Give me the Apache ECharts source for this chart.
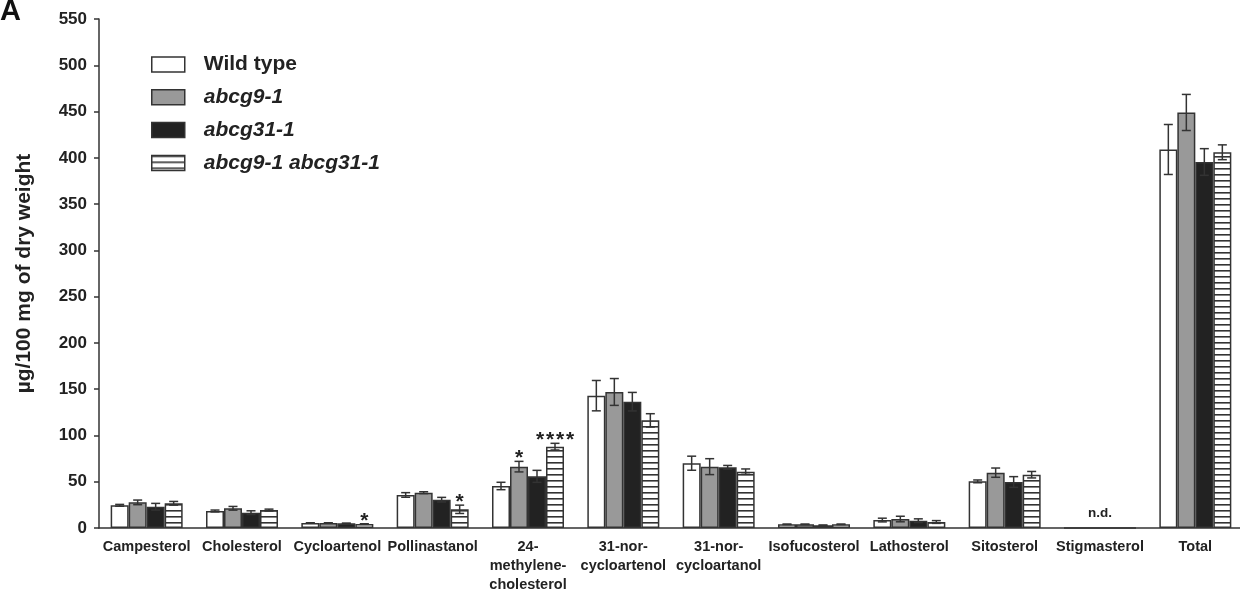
<!DOCTYPE html>
<html>
<head>
<meta charset="utf-8">
<title>Sterol content</title>
<script src="https://cdn.jsdelivr.net/npm/echarts@6/dist/echarts.min.js"></script>
<style>
  html, body { margin: 0; padding: 0; background: #fff; }
  #chart { width: 1240px; height: 591px; }
</style>
</head>
<body>
<div id="chart"></div>
<script>
// Sterol composition (µg/100 mg of dry weight) by genotype
const categories = ['Campesterol', 'Cholesterol', 'Cycloartenol', 'Pollinastanol',
  '24-\nmethylene-\ncholesterol', '31-nor-\ncycloartenol', '31-nor-\ncycloartanol',
  'Isofucosterol', 'Lathosterol', 'Sitosterol', 'Stigmasterol', 'Total'];

const seriesNames = ['Wild type', 'abcg9-1', 'abcg31-1', 'abcg9-1 abcg31-1'];

const wildType    = [24.5, 18.4, 5.4, 35.7, 45.4, 143.0, 70.0, 4.0, 8.6, 50.4, 0, 409.0];
const wildTypeErr = [1.0, 1.0, 0.3, 2.5, 4.0, 16.4, 7.6, 0.2, 2.0, 1.5, 0, 27.0];
const abcg9       = [27.7, 21.3, 5.4, 38.2, 66.3, 147.0, 66.3, 4.0, 9.7, 59.8, 0, 449.0];
const abcg9Err    = [2.5, 2.0, 0.3, 1.0, 5.7, 14.5, 8.6, 0.2, 3.0, 5.0, 0, 19.5];
const abcg31      = [23.0, 16.6, 5.0, 30.6, 55.8, 136.5, 65.6, 3.0, 7.9, 49.7, 0, 395.5];
const abcg31Err   = [3.6, 2.0, 0.3, 2.5, 6.5, 10.0, 2.0, 0.2, 2.0, 5.8, 0, 14.4];
const doubleMut   = [26.7, 19.4, 4.3, 20.2, 87.9, 116.3, 60.9, 4.0, 6.5, 57.6, 0, 406.0];
const doubleErr   = [2.0, 1.0, 0.3, 4.5, 3.6, 7.2, 2.9, 0.2, 1.5, 3.5, 0, 8.0];

// significance marks drawn above the error bars
const abcg9Marks  = ['', '', '', '', '*', '', '', '', '', '', '', ''];
const doubleMarks = ['', '', '*', '*', '****', '', '', '', '', '', '', ''];
const notes = [{ category: 'Stigmasterol', text: 'n.d.' }];

const yTicks = { min: 0, max: 550, interval: 50 };

const FONT = '"Liberation Sans", Arial, Helvetica, sans-serif';
const INK = '#333';
const BAR_W = 18;
const STAR_STEP = 10;

// horizontal stripe fill for the double mutant
function stripePattern() {
  const c = document.createElement('canvas');
  c.width = 8; c.height = 6;
  const ctx = c.getContext('2d');
  ctx.fillStyle = '#fff';
  ctx.fillRect(0, 0, 8, 6);
  ctx.fillStyle = INK;
  ctx.fillRect(0, 0, 8, 1.6);
  return c;
}

const values = [wildType, abcg9, abcg31, doubleMut];
const errors = [wildTypeErr, abcg9Err, abcg31Err, doubleErr];
const marks = [null, abcg9Marks, null, doubleMarks];
const fills = ['#ffffff', '#999999', '#222222', { image: stripePattern(), repeat: 'repeat' }];

// one item per bar: [category index, series index, value, error]
const errItems = [];
const errMarks = [];
values.forEach((vals, s) => {
  vals.forEach((v, i) => {
    errItems.push([i, s, v, errors[s][i]]);
    errMarks.push(marks[s] ? marks[s][i] : '');
  });
});

const barSeries = seriesNames.map((name, s) => ({
  name: name,
  type: 'bar',
  data: values[s],
  barWidth: BAR_W,
  barGap: '0%',
  itemStyle: { color: fills[s], borderColor: INK, borderWidth: 1.5 },
  z: 2
}));

const errorSeries = {
  type: 'custom',
  name: 'errors',
  data: errItems,
  z: 5,
  silent: true,
  renderItem: function (params, api) {
    const idx = api.value(0), s = api.value(1), v = api.value(2), e = api.value(3);
    const x = api.coord([idx, 0])[0] + (s - 1.5) * BAR_W;
    const children = [];
    const yTop = api.coord([idx, v + e])[1];
    if (e > 0) {
      const yBot = api.coord([idx, Math.max(v - e, 0)])[1];
      const cap = 4.5;
      const st = { stroke: INK, lineWidth: 1.5 };
      children.push({ type: 'line', shape: { x1: x, y1: yTop, x2: x, y2: yBot }, style: st });
      children.push({ type: 'line', shape: { x1: x - cap, y1: yTop, x2: x + cap, y2: yTop }, style: st });
      children.push({ type: 'line', shape: { x1: x - cap, y1: yBot, x2: x + cap, y2: yBot }, style: st });
    }
    const m = errMarks[params.dataIndex];
    if (m) {
      // each asterisk placed on its own, evenly spaced across the bar
      const n = m.length;
      for (let k = 0; k < n; k++) {
        children.push({
          type: 'text',
          style: {
            text: m[k], x: x + (k - (n - 1) / 2) * STAR_STEP, y: yTop - 3,
            align: 'center', verticalAlign: 'middle',
            font: 'bold 21px ' + FONT, fill: '#222'
          }
        });
      }
    }
    return { type: 'group', children: children };
  }
};

const noteSeries = {
  type: 'custom',
  name: 'notes',
  data: notes.map(n => [categories.indexOf(n.category), 0]),
  z: 5,
  silent: true,
  renderItem: function (params, api) {
    const p = api.coord([api.value(0), 0]);
    return {
      type: 'text',
      style: {
        text: notes[params.dataIndex].text, x: p[0], y: p[1] - 15,
        align: 'center', verticalAlign: 'middle',
        font: 'bold 13.5px ' + FONT, fill: '#222'
      }
    };
  }
};

const chart = echarts.init(document.getElementById('chart'), null, { renderer: 'canvas' });
chart.setOption({
  animation: false,
  backgroundColor: '#fff',
  grid: { left: 99, top: 19, width: 1144, bottom: 63, containLabel: false, outerBoundsMode: 'none' },
  graphic: [{
    type: 'text', left: 0, top: -3,
    style: { text: 'A', font: 'bold 29px ' + FONT, fill: '#111' }
  }],
  legend: {
    data: seriesNames,
    orient: 'vertical',
    left: 146,
    top: 49,
    icon: 'rect',
    itemWidth: 33,
    itemHeight: 15,
    itemGap: 11.8,
    selectedMode: false,
    itemStyle: { borderColor: INK, borderWidth: 1.5 },
    formatter: function (name) {
      return name === 'Wild type' ? '{n|' + name + '}' : '{i|' + name + '}';
    },
    textStyle: {
      padding: [0, 0, 0, 14],
      rich: {
        n: { fontFamily: FONT, fontWeight: 'bold', fontSize: 21, color: '#222', lineHeight: 21 },
        i: { fontFamily: FONT, fontWeight: 'bold', fontStyle: 'italic', fontSize: 21, color: '#222', lineHeight: 21 }
      }
    }
  },
  xAxis: {
    type: 'category',
    data: categories,
    axisLine: { lineStyle: { color: INK, width: 1.5 } },
    axisTick: { show: false },
    axisLabel: {
      interval: 0, margin: 9, color: '#222',
      fontFamily: FONT, fontWeight: 'bold', fontSize: 14.5, lineHeight: 19
    }
  },
  yAxis: {
    type: 'value',
    min: yTicks.min, max: yTicks.max, interval: yTicks.interval,
    name: 'µg/100 mg of dry weight',
    nameLocation: 'middle',
    nameGap: 64,
    nameTextStyle: { fontFamily: FONT, fontWeight: 'bold', fontSize: 21, color: '#222' },
    axisLine: { show: true, lineStyle: { color: INK, width: 1.5 } },
    axisTick: { show: true, length: 5, lineStyle: { color: INK, width: 1.5 } },
    splitLine: { show: false },
    axisLabel: { margin: 12, color: '#222', fontFamily: FONT, fontWeight: 'bold', fontSize: 17 }
  },
  series: barSeries.concat([errorSeries, noteSeries])
});
</script>
</body>
</html>
